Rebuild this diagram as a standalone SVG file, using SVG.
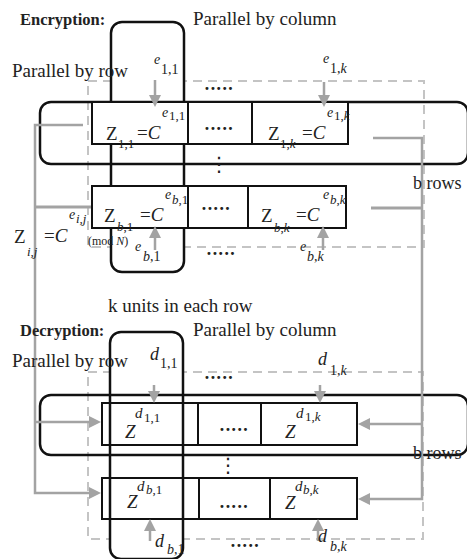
<svg xmlns="http://www.w3.org/2000/svg" width="467" height="559" viewBox="0 0 467 559">
<style>
text{font-family:"Liberation Serif","Times New Roman",serif;fill:#222}
.lbl{font-size:19px}
.hd{font-size:16.5px;font-weight:bold}
.m{font-size:19px}
.i{font-style:italic}
.s{font-size:13px}
.s14{font-size:14px}
.dots{font-family:"DejaVu Sans",sans-serif;font-size:10px}
.vd{font-family:"DejaVu Sans",sans-serif;font-size:20px}
.dash{fill:none;stroke:#c4c4c4;stroke-width:2;stroke-dasharray:9 6}
.col{fill:#fff;stroke:#111;stroke-width:2.5}
.row{fill:none;stroke:#111;stroke-width:2.5}
.cellw{fill:#fff;stroke:#111;stroke-width:2}
.cell{fill:none;stroke:#111;stroke-width:2}
.g{fill:none;stroke:#a3a3a3;stroke-width:3}
.ga{fill:none;stroke:#a3a3a3;stroke-width:2.5;marker-end:url(#ah)}
</style>
<defs>
<marker id="ah" viewBox="0 0 12 12" refX="6" refY="6" markerWidth="12" markerHeight="12" markerUnits="userSpaceOnUse" orient="auto">
<path d="M0,0 L12,6 L0,12 z" fill="#a3a3a3"/>
</marker>
</defs>

<!-- Encryption frames -->
<g id="enc-frames">
<rect class="dash" x="88" y="81" width="336" height="166"/>
<rect id="enc-column" class="col" x="111" y="22" width="73" height="250" rx="11"/>
<rect id="enc-row" class="row" x="40" y="102" width="428" height="62" rx="11"/>
</g>

<!-- Decryption frames -->
<g id="dec-frames">
<rect class="dash" x="88" y="372" width="335" height="167"/>
<rect id="dec-column" class="col" x="110" y="332" width="73" height="227" rx="11"/>
<rect id="dec-row" class="row" x="40" y="395" width="428" height="60" rx="11"/>
</g>

<!-- Encryption cells -->
<g id="enc-c11"><rect class="cellw" x="92" y="102" width="96" height="42"/>
<text class="m" x="106" y="140">Z</text><text class="s" x="118" y="148">1,1</text>
<text class="m" x="137" y="139">=<tspan class="i">C</tspan></text>
<text class="s14 i" x="162" y="117">e</text><text class="s" x="169" y="120">1,1</text></g>
<g id="enc-c12"><rect class="cellw" x="188" y="102" width="64" height="42"/>
<text class="dots" x="204" y="132">•••••</text></g>
<g id="enc-c1k"><rect class="cellw" x="252" y="102" width="96" height="42"/>
<text class="m" x="268" y="140">Z</text><text class="s" x="280" y="148">1,<tspan class="i">k</tspan></text>
<text class="m" x="302" y="139">=<tspan class="i">C</tspan></text>
<text class="s14 i" x="327" y="117">e</text><text class="s" x="334" y="120">1,<tspan class="i">k</tspan></text></g>

<g id="enc-cb1"><rect class="cellw" x="92" y="186" width="96" height="42"/>
<text class="m" x="104" y="222">Z</text><text class="s" x="117" y="231"><tspan class="i">b</tspan>,1</text>
<text class="m" x="140" y="221">=<tspan class="i">C</tspan></text>
<text class="s14 i" x="165" y="199">e</text><text class="s" x="172" y="204"><tspan class="i">b</tspan>,1</text></g>
<g id="enc-cb2"><rect class="cellw" x="188" y="186" width="60" height="42"/>
<text class="dots" x="201" y="212">•••••</text></g>
<g id="enc-cbk"><rect class="cellw" x="248" y="186" width="98" height="42"/>
<text class="m" x="261" y="222">Z</text><text class="s" x="274" y="232"><tspan class="i">b</tspan>,<tspan class="i">k</tspan></text>
<text class="m" x="296" y="221">=<tspan class="i">C</tspan></text>
<text class="s14 i" x="323" y="199">e</text><text class="s" x="330" y="204"><tspan class="i">b</tspan>,<tspan class="i">k</tspan></text></g>

<!-- Decryption cells -->
<g id="dec-c11"><rect class="cell" x="102" y="403" width="96" height="42"/>
<text class="m i" x="125" y="438">Z</text>
<text class="i" x="135" y="418" style="font-size:15px">d</text><text class="s" x="144" y="422">1,1</text></g>
<g id="dec-c12"><rect class="cell" x="198" y="403" width="63" height="42"/>
<text class="dots" x="219" y="433">•••••</text></g>
<g id="dec-c1k"><rect class="cell" x="261" y="403" width="96" height="42"/>
<text class="m i" x="285" y="438">Z</text>
<text class="i" x="296" y="418" style="font-size:15px">d</text><text class="s" x="305" y="421">1,<tspan class="i">k</tspan></text></g>

<g id="dec-cb1"><rect class="cell" x="102" y="478" width="97" height="41"/>
<text class="m i" x="127" y="508">Z</text>
<text class="i" x="137" y="491" style="font-size:15px">d</text><text class="s" x="146" y="494"><tspan class="i">b</tspan>,1</text></g>
<g id="dec-cb2"><rect class="cell" x="199" y="478" width="71" height="41"/>
<text class="dots" x="219" y="510">•••••</text></g>
<g id="dec-cbk"><rect class="cell" x="270" y="478" width="87" height="41"/>
<text class="m i" x="285" y="509">Z</text>
<text class="i" x="295" y="491" style="font-size:15px">d</text><text class="s" x="303" y="494"><tspan class="i">b</tspan>,<tspan class="i">k</tspan></text></g>

<!-- Connectors -->
<g id="connectors">
<path class="ga" d="M83,125 H35 V493 H95"/>
<path class="g" d="M35,207 H91"/>
<path class="ga" d="M35,422 H95"/>
<path class="ga" d="M373,138 H422 V499 H364"/>
<path class="g" d="M371,208 H422"/>
<path class="ga" d="M422,424 H364"/>
<path class="ga" d="M155,80 V101"/>
<path class="ga" d="M324,82 V101"/>
<path class="ga" d="M155,250 V232"/>
<path class="ga" d="M323,250 V232"/>
<path class="ga" d="M154,385 V397"/>
<path class="ga" d="M320,385 V397"/>
<path class="ga" d="M150,541 V525"/>
<path class="ga" d="M318,541 V525"/>
</g>

<!-- Labels -->
<g id="labels">
<text class="hd" x="20" y="25">Encryption:</text>
<text class="lbl" x="193" y="25">Parallel by column</text>
<text class="lbl" x="12" y="77">Parallel by row</text>
<text class="s14 i" x="154" y="64">e</text><text class="s14" x="161" y="74">1,1</text>
<text class="s14 i" x="323" y="63">e</text><text class="s14" x="330" y="73">1,<tspan class="i">k</tspan></text>
<text class="dots" x="204" y="92">•••••</text>
<text class="vd" x="209" y="171">⋮</text>
<text class="s14 i" x="135" y="251">e</text><text class="s14" x="143" y="261"><tspan class="i">b</tspan>,1</text>
<text class="s14 i" x="300" y="251">e</text><text class="s14" x="307" y="261"><tspan class="i">b</tspan>,<tspan class="i">k</tspan></text>
<text class="dots" x="206" y="257">•••••</text>
<text class="m" x="14" y="243">Z</text><text class="s i" x="27" y="256">i,j</text>
<text class="m" x="44" y="242">=<tspan class="i">C</tspan></text>
<text class="s14 i" x="69" y="219">e</text><text class="s i" x="76" y="223">i,j</text>
<text x="88" y="245" style="font-size:12px">(mod <tspan class="i">N</tspan>)</text>
<text class="lbl" x="413" y="189" style="font-size:18px">b rows</text>
<text class="lbl" x="108" y="312">k units in each row</text>

<text class="hd" x="20" y="336">Decryption:</text>
<text class="lbl" x="193" y="336">Parallel by column</text>
<text class="lbl" x="12" y="367">Parallel by row</text>
<text class="i" x="150" y="360" style="font-size:18px">d</text><text class="s14" x="160" y="368">1,1</text>
<text class="i" x="318" y="365" style="font-size:18px">d</text><text class="s14" x="330" y="375">1,<tspan class="i">k</tspan></text>
<text class="dots" x="204" y="381">•••••</text>
<text class="vd" x="218" y="472">⋮</text>
<text class="i" x="155" y="547" style="font-size:18px">d</text><text class="s14" x="167" y="554"><tspan class="i">b</tspan>,1</text>
<text class="i" x="318" y="542" style="font-size:18px">d</text><text class="s14" x="330" y="551"><tspan class="i">b</tspan>,<tspan class="i">k</tspan></text>
<text class="dots" x="230" y="549">•••••</text>
<text class="lbl" x="413" y="459" style="font-size:18px">b rows</text>
</g>
</svg>
